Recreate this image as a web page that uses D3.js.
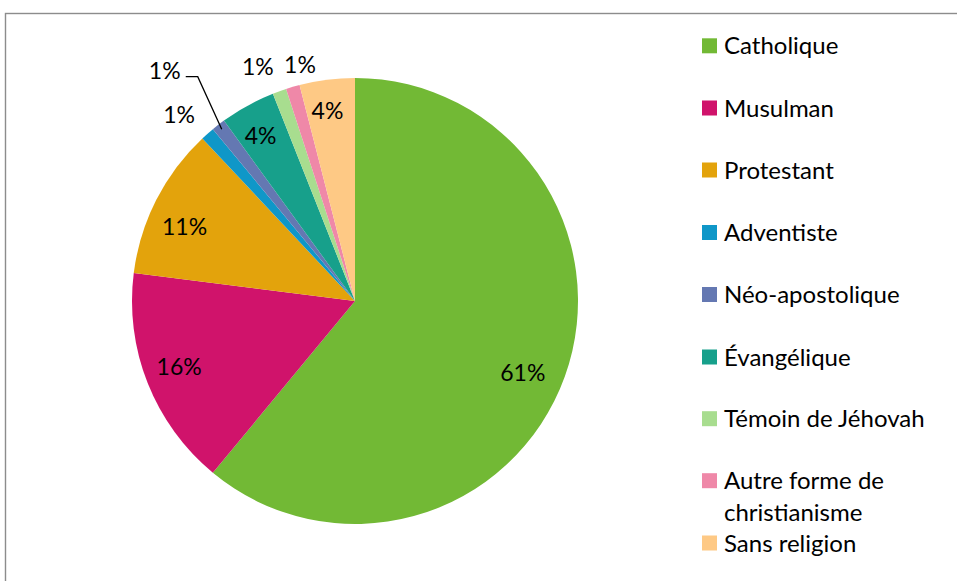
<!DOCTYPE html>
<html>
<head>
<meta charset="utf-8">
<script src="https://cdn.jsdelivr.net/npm/d3@7"></script>
<style>
  html, body { margin: 0; padding: 0; background: #fff; }
  svg { display: block; }
  text { font-family: Lato, "Open Sans", sans-serif; fill: #000; }
</style>
</head>
<body>
<svg id="chart" width="957" height="581"></svg>
<script>
// Religious affiliation shares (%)
const categories = ["Catholique", "Musulman", "Protestant", "Adventiste", "Néo-apostolique",
  "Évangélique", "Témoin de Jéhovah", "Autre forme de christianisme", "Sans religion"];
const values = [61, 16, 11, 1, 1, 4, 1, 1, 4];
const colors = ["#72b935", "#d0136b", "#e3a30c", "#0f97c8", "#6478b2",
  "#17a08b", "#a8dd8f", "#ef88a8", "#fec985"];
const legendLines = [["Catholique"], ["Musulman"], ["Protestant"], ["Adventiste"], ["Néo-apostolique"],
  ["Évangélique"], ["Témoin de Jéhovah"], ["Autre forme de", "christianisme"], ["Sans religion"]];

const svg = d3.select("#chart");

// outer frame (runs off the right and bottom edges)
svg.append("rect")
  .attr("x", 5.5).attr("y", 13.5).attr("width", 1000).attr("height", 1000)
  .attr("fill", "none").attr("stroke", "#8c8c8c").attr("stroke-width", 1.4);

const cx = 355, cy = 301, r = 223;
const total = d3.sum(values);
const data = categories.map((c, i) => ({ name: c, value: values[i], color: colors[i] }));

const pie = d3.pie().value(d => d.value).sort(null);
const arcs = pie(data);
const arc = d3.arc().innerRadius(0).outerRadius(r);

const g = svg.append("g").attr("transform", `translate(${cx},${cy})`);
g.selectAll("path").data(arcs).enter().append("path")
  .attr("d", arc)
  .attr("fill", d => d.data.color);

// label layout: [radius factor, dx, dy] around each slice's mid-angle
const labelLayout = [
  [0.8, 0, 11.6], [0.8, -10, 0], [0.8, -11.5, 6.5], [1.15, -6.4, 6.5], [1.0, 0, 0],
  [0.8, -8.5, -9.2], [1.1, -14, -3.7], [1.1, 13.4, -0.4], [0.87, -3.2, 2.5]
];
const labelSize = 23, capHalf = labelSize * 0.36;
const polar = (a, rr) => [Math.sin(a) * rr, -Math.cos(a) * rr];

arcs.forEach((d, i) => {
  const mid = (d.startAngle + d.endAngle) / 2;
  const [f, dx, dy] = labelLayout[i];
  let [x, y] = polar(mid, r * f);
  x += dx; y += dy;
  if (i === 4) {
    // Néo-apostolique: label pulled up-left with a leader line
    const [ex, ey] = polar(mid, r * 0.975);
    const lx = ex - 24, ly = ey - 52.5;
    g.append("polyline")
      .attr("points", `${lx - 12},${ly} ${lx},${ly} ${ex},${ey}`)
      .attr("fill", "none").attr("stroke", "#000").attr("stroke-width", 1.3);
    x = lx - 33; y = ly - 5.5;
  }
  g.append("text")
    .attr("x", x).attr("y", y + capHalf)
    .attr("text-anchor", "middle")
    .attr("font-size", labelSize)
    .text(Math.round(d.data.value / total * 100) + "%");
});

// legend
const legendY = [45.8, 108, 170, 232.5, 294.5, 357, 418.7, 480.7, 543];
const legendSize = 24;
const lg = svg.append("g");
data.forEach((d, i) => {
  const y = legendY[i];
  lg.append("rect").attr("x", 702).attr("y", y - 7.5).attr("width", 15).attr("height", 15).attr("fill", d.color);
  legendLines[i].forEach((line, j) => {
    lg.append("text").attr("x", 724).attr("y", y + j * 31.5 + legendSize * 0.36)
      .attr("font-size", legendSize).text(line);
  });
});
</script>
</body>
</html>
